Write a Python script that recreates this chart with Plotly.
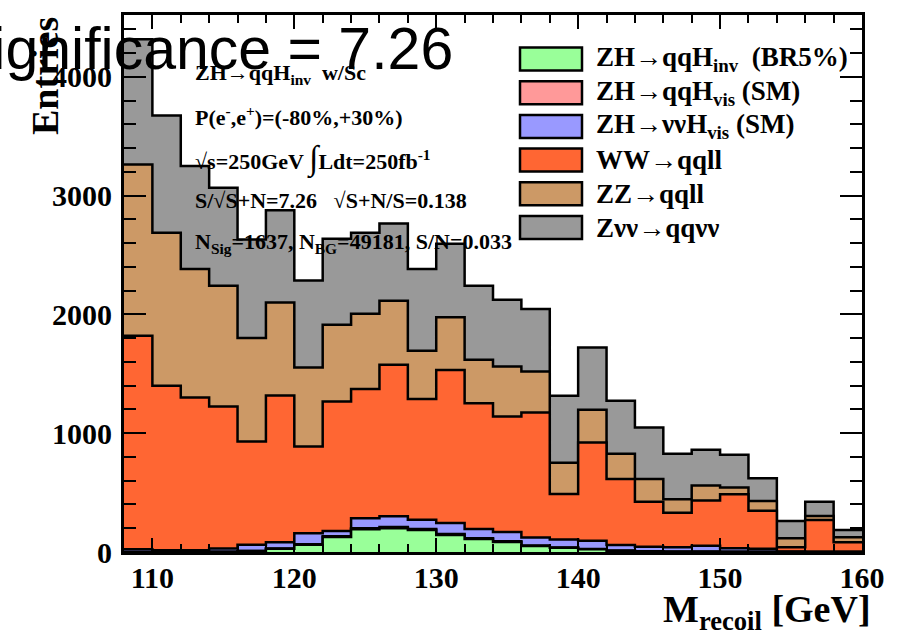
import numpy as np
import plotly.graph_objects as go

# Recoil-mass bins: 2 GeV wide, 108-160 GeV
bin_edges = np.arange(108, 162, 2)

# Event counts per bin for each process (stacked bottom to top)
zh_qqh_inv = [0, 0, 0, 2, 8, 28, 62, 127, 191, 200, 185, 143, 110, 85, 51, 35, 23, 11, 5, 3, 3, 2, 2, 0, 0, 0]
zh_qqh_vis = [0, 0, 0, 0, 1, 2, 4, 6, 9, 10, 9, 8, 6, 5, 4, 3, 2, 1, 1, 1, 1, 0, 0, 0, 0, 0]
zh_nnh_vis = [24, 15, 15, 28, 53, 53, 91, 44, 84, 90, 78, 93, 77, 78, 67, 67, 70, 47, 39, 36, 49, 29, 26, 5, 3, 2]
ww_qqll = [1797, 1384, 1286, 1195, 868, 1235, 731, 1090, 1088, 1276, 1015, 1287, 1060, 973, 1053, 384, 827, 556, 379, 291, 380, 456, 320, 35, 267, 80]
zz_qqll = [1441, 1288, 1082, 1017, 871, 783, 665, 646, 634, 539, 407, 444, 365, 421, 345, 263, 275, 211, 191, 113, 126, 55, 82, 75, 33, 42]
znn_qqnn = [1054, 988, 865, 824, 829, 776, 732, 723, 681, 650, 689, 620, 624, 562, 526, 563, 525, 447, 433, 382, 301, 276, 191, 146, 121, 61]

labels = [
    "ZH→qqH<sub>inv</sub>  (BR5%)",
    "ZH→qqH<sub>vis</sub> (SM)",
    "ZH→ννH<sub>vis</sub> (SM)",
    "WW→qqll",
    "ZZ→qqll",
    "Zνν→qqνν",
]
series = [zh_qqh_inv, zh_qqh_vis, zh_nnh_vis, ww_qqll, zz_qqll, znn_qqnn]
colors = ["#99FF99", "#FF9999", "#9999FF", "#FF6633", "#CC9966", "#999999"]

stat_lines = [
    "ZH→qqH<sub>inv</sub>  w/Sc",
    "P(e<sup>-</sup>,e<sup>+</sup>)=(-80%,+30%)",
    "√s=250GeV <span style='font-size:34px'>∫</span>Ldt=250fb<sup>-1</sup>",
    "S/√S+N=7.26   √S+N/S=0.138",
    "N<sub>Sig</sub>=1637, N<sub>BG</sub>=49181, S/N=0.033",
]

W, H = 908, 633
ML, MR, MT, MB = 124, 46, 15, 81
PW, PH = W - ML - MR, H - MT - MB


def px(x):
    return (x - ML) / PW


def py(y):
    return (H - MB - y) / PH


SERIF = "Liberation Serif"
cum = np.cumsum(np.array(series, dtype=float), axis=0)

fig = go.Figure()
# draw the tallest stack first so each lower component paints over it
for i in reversed(range(len(series))):
    y = np.append(cum[i], cum[i][-1])
    fig.add_trace(go.Scatter(
        x=bin_edges, y=y, mode="lines", name=labels[i],
        line=dict(shape="hv", color="black", width=2.5),
        fill="tozeroy", fillcolor=colors[i], showlegend=False,
    ))

tickfont = dict(family=SERIF, size=30, color="black", weight="bold")
fig.update_xaxes(
    range=[108, 160], tickvals=[110, 120, 130, 140, 150, 160],
    showline=True, linewidth=3, linecolor="black", mirror="ticks",
    ticks="inside", ticklen=14, tickwidth=2, tickcolor="black",
    minor=dict(dtick=2, tick0=108, ticks="inside", ticklen=8, tickwidth=2, tickcolor="black"),
    showgrid=False, zeroline=False, tickfont=tickfont, ticklabelstandoff=-3,
)
fig.update_yaxes(
    range=[0, 4520], tickvals=[0, 1000, 2000, 3000, 4000],
    showline=True, linewidth=3, linecolor="black", mirror="ticks",
    ticks="inside", ticklen=22, tickwidth=2, tickcolor="black",
    minor=dict(dtick=200, tick0=0, ticks="inside", ticklen=12, tickwidth=2, tickcolor="black"),
    showgrid=False, zeroline=False, tickfont=tickfont, ticklabelstandoff=3,
)

annotations = []
shapes = []

# statistics block
stat_y = [74, 116, 159, 201, 243]
for text, yy in zip(stat_lines, stat_y):
    annotations.append(dict(
        text=text, x=px(193), y=py(yy), xref="paper", yref="paper",
        xanchor="left", yanchor="middle", showarrow=False,
        font=dict(family=SERIF, size=22, color="black", weight="bold"),
    ))

# legend
for k, (lab, col) in enumerate(zip(labels, colors)):
    yc = 59 + k * 33.7
    shapes.append(dict(
        type="rect", xref="paper", yref="paper",
        x0=px(520), x1=px(582), y0=py(yc - 11.5), y1=py(yc + 11.5),
        fillcolor=col, line=dict(color="black", width=2.5), layer="above",
    ))
    annotations.append(dict(
        text=lab, x=px(594), y=py(yc), xref="paper", yref="paper",
        xanchor="left", yanchor="middle", showarrow=False,
        font=dict(family=SERIF, size=27, color="black", weight="bold"),
    ))

# axis titles
annotations.append(dict(
    text="Entries", textangle=-90, x=px(45), y=py(15), xref="paper", yref="paper",
    xanchor="center", yanchor="top", showarrow=False,
    font=dict(family=SERIF, size=38, color="black", weight="bold"),
))
annotations.append(dict(
    text="M<sub>recoil</sub> [GeV]", x=px(873), y=py(612), xref="paper", yref="paper",
    xanchor="right", yanchor="middle", showarrow=False,
    font=dict(family=SERIF, size=38, color="black", weight="bold"),
))

# headline
annotations.append(dict(
    text="Significance = 7.26", x=px(455), y=py(49), xref="paper", yref="paper",
    xanchor="right", yanchor="middle", showarrow=False,
    font=dict(family="Liberation Sans", size=59, color="black"),
))

fig.update_layout(
    width=W, height=H, margin=dict(l=ML, r=MR, t=MT, b=MB),
    paper_bgcolor="white", plot_bgcolor="white",
    annotations=annotations, shapes=shapes, showlegend=False,
)

fig.write_html("out.html")
